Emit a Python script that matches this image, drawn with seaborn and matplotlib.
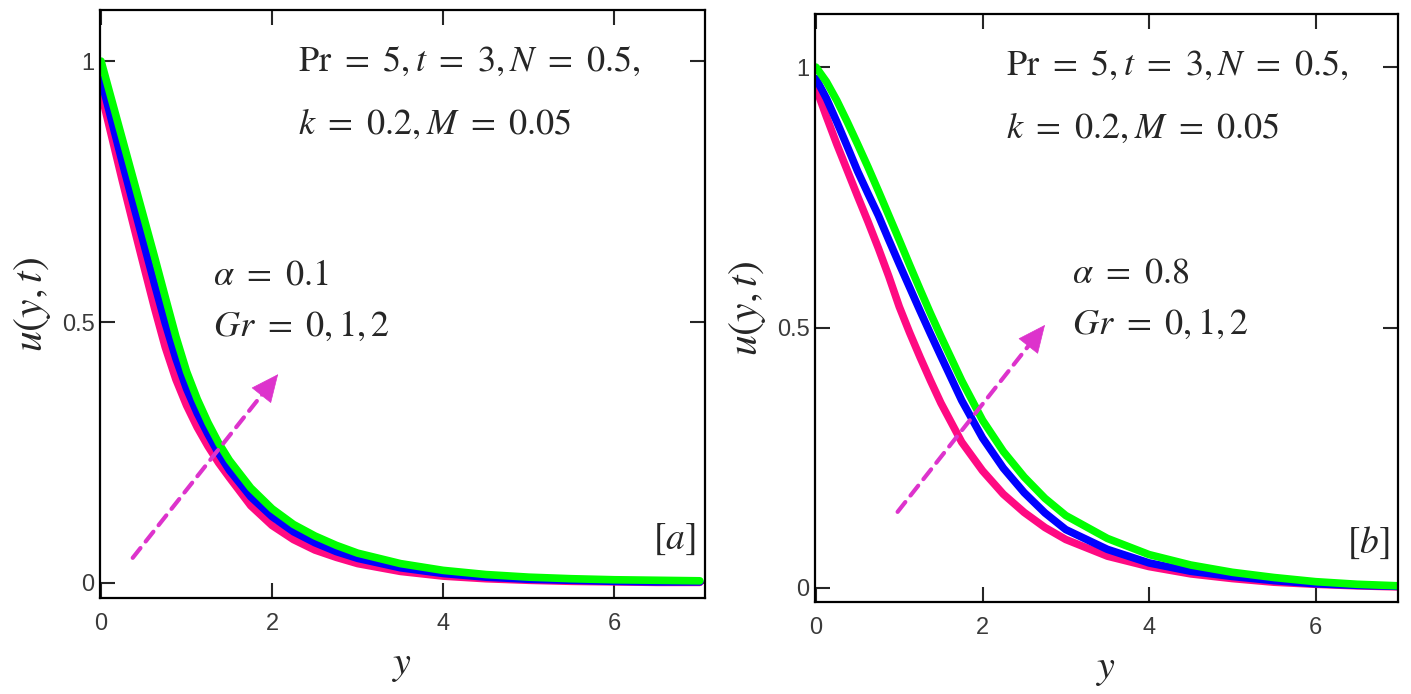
import numpy as np
import pandas as pd
import seaborn as sns
import matplotlib.pyplot as plt

# %%
# data
y_grid = [0, 0.125, 0.25, 0.375, 0.5, 0.625, 0.75, 0.875, 1.0, 1.125, 1.25, 1.375, 1.5,
          1.75, 2.0, 2.25, 2.5, 2.75, 3.0, 3.5, 4.0, 4.5, 5.0, 5.5, 6.0, 6.5, 7.0]
gr_values = ['0', '1', '2']

# panel [a], alpha = 0.1
u_a_gr0 = [0.94, 0.855, 0.77, 0.688, 0.607, 0.527, 0.452, 0.39, 0.34, 0.298, 0.262, 0.23, 0.202,
           0.148, 0.11, 0.083, 0.063, 0.049, 0.037, 0.022, 0.013, 0.008, 0.005, 0.003, 0.002, 0.001, 0.001]
u_a_gr1 = [0.965, 0.885, 0.805, 0.727, 0.65, 0.573, 0.498, 0.43, 0.372, 0.325, 0.285, 0.248, 0.216,
           0.165, 0.127, 0.098, 0.077, 0.06, 0.047, 0.029, 0.018, 0.011, 0.007, 0.005, 0.003, 0.002, 0.002]
u_a_gr2 = [1.0, 0.925, 0.85, 0.775, 0.70, 0.625, 0.548, 0.472, 0.405, 0.352, 0.307, 0.268, 0.235,
           0.182, 0.142, 0.112, 0.09, 0.072, 0.057, 0.037, 0.024, 0.016, 0.011, 0.008, 0.006, 0.005, 0.004]

# panel [b], alpha = 0.8
u_b_gr0 = [0.96, 0.905, 0.852, 0.802, 0.752, 0.703, 0.652, 0.598, 0.54, 0.49, 0.443, 0.398, 0.355,
           0.28, 0.225, 0.18, 0.145, 0.116, 0.093, 0.061, 0.041, 0.027, 0.018, 0.011, 0.007, 0.004, 0.002]
u_b_gr1 = [0.978, 0.94, 0.895, 0.848, 0.80, 0.757, 0.715, 0.668, 0.622, 0.577, 0.532, 0.488, 0.445,
           0.36, 0.288, 0.23, 0.183, 0.144, 0.112, 0.074, 0.048, 0.032, 0.022, 0.014, 0.008, 0.005, 0.003]
u_b_gr2 = [1.0, 0.972, 0.936, 0.895, 0.852, 0.808, 0.762, 0.715, 0.668, 0.62, 0.573, 0.527, 0.483,
           0.398, 0.322, 0.262, 0.213, 0.172, 0.139, 0.095, 0.064, 0.044, 0.03, 0.02, 0.012, 0.007, 0.004]

line_colors = {'0': '#FF0A82', '1': '#0000FF', '2': '#00FF00'}
arrow_color = '#DD33CC'

def make_df(series):
    rows = []
    for gr, vals in zip(gr_values, series):
        for yy, uu in zip(y_grid, vals):
            rows.append({'y': yy, 'u': uu, 'Gr': gr})
    return pd.DataFrame(rows)

df_a = make_df([u_a_gr0, u_a_gr1, u_a_gr2])
df_b = make_df([u_b_gr0, u_b_gr1, u_b_gr2])

# %%
sns.set_style('ticks')
plt.rcParams['mathtext.fontset'] = 'stix'
plt.rcParams['font.family'] = ['Liberation Sans', 'DejaVu Sans']

fig = plt.figure(figsize=(14.11, 6.94), dpi=100)
ax_a = fig.add_axes([0.0709, 0.1383, 0.4287, 0.8473])
ax_b = fig.add_axes([0.5776, 0.1326, 0.4132, 0.8472])

panels = [
    (ax_a, df_a, (-0.012, 7.06), (-0.029, 1.098), r'$\alpha\ =\ 0.1$', (0.37, 0.048), (2.07, 0.40), (1.31, 0.59), r'$[a]$'),
    (ax_b, df_b, (-0.012, 6.99), (-0.027, 1.102), r'$\alpha\ =\ 0.8$', (0.98, 0.146), (2.75, 0.505), (3.07, 0.605), r'$[b]$'),
]

for ax, df, xl, yl, alpha_txt, a_start, a_end, txt_pos, tag in panels:
    sns.lineplot(data=df, x='y', y='u', hue='Gr', hue_order=gr_values, palette=line_colors,
                 linewidth=5.5, legend=False, estimator=None, ax=ax)
    ax.set_xlim(*xl)
    ax.set_ylim(*yl)
    ax.set_xticks([0, 2, 4, 6])
    ax.set_yticks([0, 0.5, 1])
    ax.set_xticklabels(['0', '2', '4', '6'])
    ax.set_yticklabels(['0', '0.5', '1'])
    ax.tick_params(direction='in', length=11, width=1.5, top=True, right=True,
                   labelsize=17, labelcolor='#3a3a3a', pad=4)
    ax.tick_params(axis='x', pad=11)
    for s in ax.spines.values():
        s.set_linewidth(1.6)
        s.set_color('black')
    ax.set_xlabel(r'$y$', fontsize=29, labelpad=8)
    ax.set_ylabel(r'$u(y,t)$', fontsize=30, labelpad=6)

    # dashed shaft, then a solid head at its end
    ax.annotate('', xy=a_end, xytext=a_start,
                arrowprops=dict(arrowstyle='-', color=arrow_color, lw=3,
                                linestyle=(0, (3, 2)), shrinkA=0, shrinkB=6))
    head_from = (a_end[0] - 0.12 * (a_end[0] - a_start[0]), a_end[1] - 0.12 * (a_end[1] - a_start[1]))
    ax.annotate('', xy=a_end, xytext=head_from,
                arrowprops=dict(arrowstyle='-|>,head_length=1.1,head_width=0.5', color=arrow_color,
                                lw=0.5, shrinkA=0, shrinkB=0, mutation_scale=17))

    ax.text(0.328, 0.913, r'$\mathrm{Pr}\ =\ 5,t\ =\ 3,N\ =\ 0.5,$', transform=ax.transAxes,
            fontsize=26, ha='left', va='center')
    ax.text(0.328, 0.806, r'$k\ =\ 0.2,M\ =\ 0.05$', transform=ax.transAxes,
            fontsize=26, ha='left', va='center')
    ax.text(txt_pos[0], txt_pos[1], alpha_txt, fontsize=26, ha='left', va='center')
    ax.text(txt_pos[0], txt_pos[1] - 0.098, r'$Gr\ =\ 0,1,2$', fontsize=26, ha='left', va='center')
    ax.text(0.985, 0.1, tag, transform=ax.transAxes, fontsize=27, ha='right', va='center')

plt.savefig('out.png', dpi=100)
